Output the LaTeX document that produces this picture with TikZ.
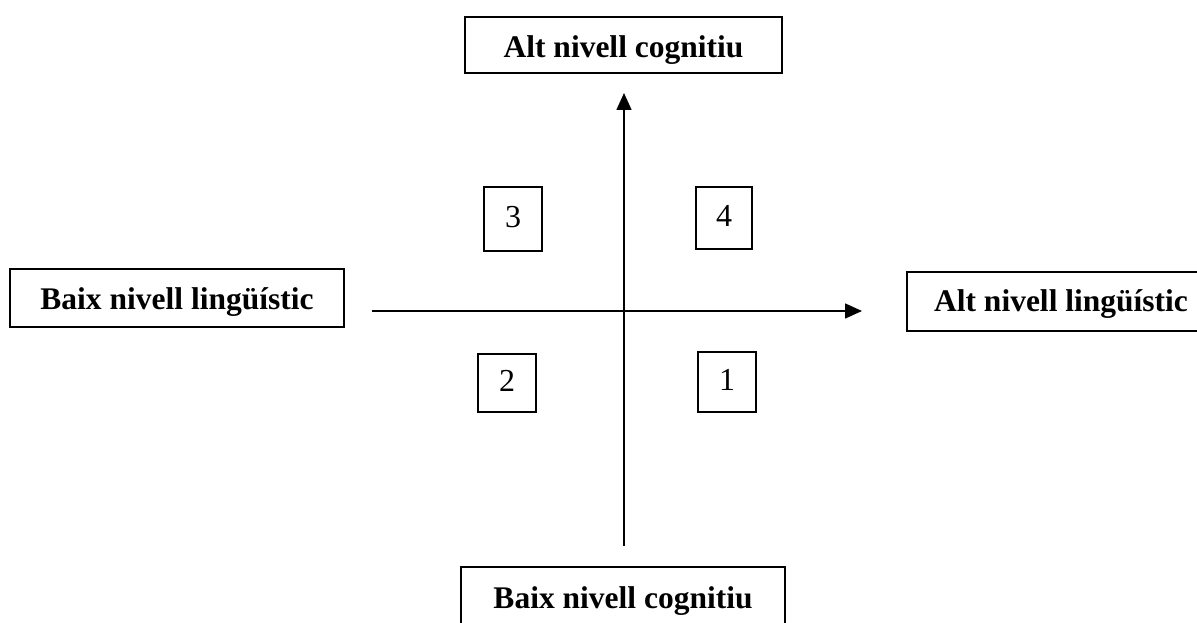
\documentclass[tikz,border=0pt]{standalone}
\usepackage{fontspec}
\setmainfont{Liberation Serif}
\usetikzlibrary{arrows.meta}
\begin{document}
\begin{tikzpicture}[x=1pt,y=-1pt,
  lbl/.style={draw=black,line width=1.5pt,inner sep=0pt,font=\fontsize{31.5}{36}\selectfont\bfseries},
  num/.style={draw=black,line width=1.5pt,inner sep=0pt,font=\fontsize{32}{36}\selectfont,text height=16pt,text depth=0pt},
  axis/.style={line width=1.6pt,-{Triangle[length=17pt,width=15pt]}}]
\useasboundingbox (0,0) rectangle (1197,623);
% axis labels
\node[lbl,minimum width=317pt,minimum height=56pt,text height=26pt,text depth=0pt] (top) at (623.5,45) {Alt nivell cognitiu};
\node[lbl,minimum width=334pt,minimum height=58pt,text height=22pt,text depth=0pt] (left) at (177,298) {Baix nivell lingüístic};
\node[lbl,minimum width=308pt,minimum height=59pt,text height=19pt,text depth=0pt] (right) at (1061,301.5) {Alt nivell lingüístic};
\node[lbl,minimum width=324pt,minimum height=78pt,text height=22pt,text depth=18pt] (bottom) at (623,606) {Baix nivell cognitiu};
% quadrant numbers
\node[num,minimum width=58pt,minimum height=64pt] (q3) at (513,219) {3};
\node[num,minimum width=56pt,minimum height=62pt] (q4) at (724,218) {4};
\node[num,minimum width=58pt,minimum height=58pt] (q2) at (507,383) {2};
\node[num,minimum width=58pt,minimum height=60pt] (q1) at (727,382) {1};
% axes
\coordinate (vstart) at (624,546);
\coordinate (vend) at (624,93);
\coordinate (hstart) at (372,311);
\coordinate (hend) at (862,311);
\draw[axis] (vstart) -- (vend);
\draw[axis] (hstart) -- (hend);
\end{tikzpicture}
\end{document}
